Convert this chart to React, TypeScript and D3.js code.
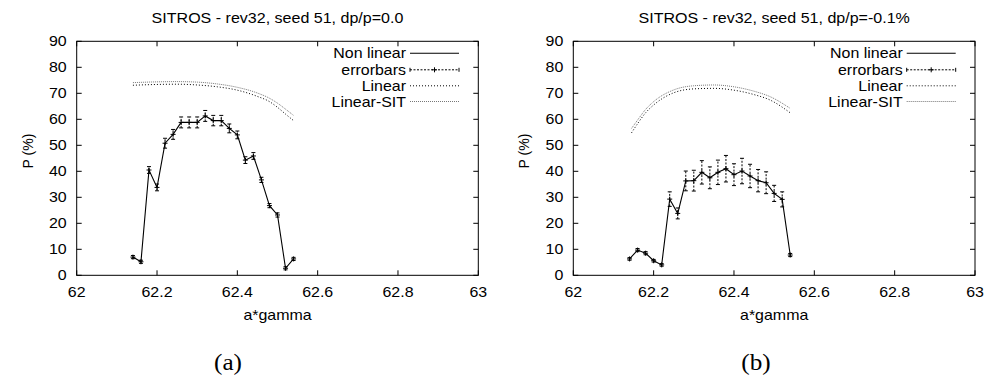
import React from "react";
import * as d3 from "d3";

// ---------- data ----------
const xNL = [62.14, 62.16, 62.18, 62.2, 62.22, 62.24, 62.26, 62.28, 62.3, 62.32, 62.34, 62.36, 62.38, 62.4, 62.42, 62.44, 62.46, 62.48, 62.5, 62.52, 62.54];

const nlA = [7.0, 5.2, 40.5, 33.8, 50.8, 54.2, 58.8, 58.8, 58.8, 61.3, 59.5, 59.5, 56.5, 54.0, 44.3, 45.9, 36.7, 26.8, 23.2, 2.7, 6.3];
const errA = [0.6, 0.6, 1.3, 1.3, 1.9, 1.9, 2.1, 2.1, 2.1, 2.1, 2.0, 2.0, 1.7, 1.5, 1.3, 1.3, 1.0, 0.8, 0.8, 0.6, 0.6];

const nlB = [6.3, 9.7, 8.5, 5.6, 4.0, 29.3, 23.8, 36.3, 36.4, 39.6, 37.5, 39.6, 41.0, 38.7, 40.1, 38.2, 36.4, 35.6, 31.5, 29.2, 7.8];
const errB = [0.5, 0.6, 0.6, 0.5, 0.5, 2.8, 2.1, 3.8, 4.0, 4.5, 4.2, 4.7, 5.1, 4.2, 4.9, 4.5, 4.3, 4.2, 3.1, 2.9, 0.6];

const xLinA = [62.14, 62.2, 62.25, 62.3, 62.35, 62.4, 62.45, 62.48, 62.5, 62.52, 62.54];
const linA = [73.1, 73.4, 73.5, 73.2, 72.5, 71.2, 68.8, 66.8, 64.6, 62.0, 59.5];
const sitA = [74.1, 74.4, 74.5, 74.3, 73.6, 72.3, 70.1, 68.1, 66.2, 63.9, 61.5];

const xLinB = [62.145, 62.16, 62.18, 62.2, 62.25, 62.3, 62.35, 62.4, 62.45, 62.49, 62.54];
const linB = [54.8, 58.3, 62.5, 65.5, 70.2, 71.7, 71.9, 71.2, 69.5, 67.4, 62.5];
const sitB = [56.5, 59.7, 63.8, 66.8, 71.3, 72.9, 73.2, 72.5, 70.8, 68.7, 64.2];

const xTicks = [62, 62.2, 62.4, 62.6, 62.8, 63];
const yTicks = [0, 10, 20, 30, 40, 50, 60, 70, 80, 90];
const legendLabels = ["Non linear", "errorbars", "Linear", "Linear-SIT"];

const titles = ["SITROS - rev32, seed 51, dp/p=0.0", "SITROS - rev32, seed 51, dp/p=-0.1%"];
const captions = ["(a)", "(b)"];
const xLabel = "a*gamma";
const yLabel = "P (%)";

// ---------- layout ----------
const W = 987;
const H = 379;
const SANS = "'Liberation Sans', Arial, sans-serif";
const SX = 1.14;

type PanelProps = {
  x0: number;
  x1: number;
  title: string;
  caption: string;
  captionX: number;
  nl: number[];
  err: number[];
  xl: number[];
  lin: number[];
  sit: number[];
};

function T({ x, y, children, anchor = "middle", size = 14, sx = SX, rotate = 0, family = SANS }: any) {
  return (
    <text
      transform={`translate(${x},${y}) rotate(${rotate}) scale(${sx},1)`}
      textAnchor={anchor}
      fontSize={size}
      fontFamily={family}
      fill="#000"
    >
      {children}
    </text>
  );
}

function Panel({ x0, x1, title, caption, captionX, nl, err, xl, lin, sit }: PanelProps) {
  const yTop = 41.3;
  const yBot = 275.3;
  const x = d3.scaleLinear().domain([62, 63]).range([x0, x1]);
  const y = d3.scaleLinear().domain([0, 90]).range([yBot, yTop]);
  const tl = 5;

  const nlLine = d3
    .line<number>()
    .x((_, i) => x(xNL[i]))
    .y((d) => y(d));
  const curve = d3
    .line<number>()
    .x((_, i) => x(xl[i]))
    .y((d) => y(d))
    .curve(d3.curveMonotoneX);

  const cx = (x0 + x1) / 2;
  const legTextX = x1 - 72.3;
  const legS0 = x1 - 68.3;
  const legS1 = x1 - 19.3;
  const legY = [53.3, 69.8, 85.8, 101.5];

  const plus = (px: number, py: number, k: string) => (
    <g key={k}>
      <line x1={px - 2.5} x2={px + 2.5} y1={py} y2={py} stroke="#000" strokeWidth={1} />
      <line x1={px} x2={px} y1={py - 2.5} y2={py + 2.5} stroke="#000" strokeWidth={1} />
    </g>
  );

  return (
    <g>
      {/* frame */}
      <rect x={x0} y={yTop} width={x1 - x0} height={yBot - yTop} fill="none" stroke="#000" strokeWidth={1} />
      {xTicks.map((t) => (
        <g key={"xt" + t}>
          <line x1={x(t)} x2={x(t)} y1={yBot} y2={yBot - tl} stroke="#000" />
          <line x1={x(t)} x2={x(t)} y1={yTop} y2={yTop + tl} stroke="#000" />
          <T x={x(t)} y={297.3}>{String(t)}</T>
        </g>
      ))}
      {yTicks.map((t) => (
        <g key={"yt" + t}>
          <line x1={x0} x2={x0 + tl} y1={y(t)} y2={y(t)} stroke="#000" />
          <line x1={x1} x2={x1 - tl} y1={y(t)} y2={y(t)} stroke="#000" />
          <T x={x0 - 10} y={y(t) + 5} anchor="end">{String(t)}</T>
        </g>
      ))}
      <T x={cx} y={22.5} size={15} sx={1.07}>{title}</T>
      <T x={cx} y={320}>{xLabel}</T>
      <T x={x0 - 44} y={151} rotate={-90} sx={1}>{yLabel}</T>
      <T x={captionX} y={370} size={24} sx={1.05} family="'Liberation Serif', 'DejaVu Serif', serif">{caption}</T>

      {/* linear curves */}
      <path d={curve(sit) || ""} fill="none" stroke="#777" strokeWidth={1} strokeDasharray="1,1" />
      <path d={curve(lin) || ""} fill="none" stroke="#000" strokeWidth={1} strokeDasharray="1,2" />

      {/* error bars */}
      {nl.map((v, i) => {
        const px = x(xNL[i]);
        const lo = y(v - err[i]);
        const hi = y(v + err[i]);
        return (
          <g key={"e" + i}>
            <line x1={px} x2={px} y1={lo} y2={hi} stroke="#000" strokeWidth={1} strokeDasharray="2,1.5" />
            <line x1={px - 2} x2={px + 2} y1={lo} y2={lo} stroke="#000" strokeWidth={1} />
            <line x1={px - 2} x2={px + 2} y1={hi} y2={hi} stroke="#000" strokeWidth={1} />
          </g>
        );
      })}
      {/* non linear */}
      <path d={nlLine(nl) || ""} fill="none" stroke="#000" strokeWidth={1.1} />
      {nl.map((v, i) => plus(x(xNL[i]), y(v), "p" + i))}

      {/* legend */}
      {legendLabels.map((l, i) => (
        <T key={"lg" + i} x={legTextX} y={legY[i] + 5} anchor="end">{l}</T>
      ))}
      <line x1={legS0} x2={legS1} y1={legY[0]} y2={legY[0]} stroke="#000" strokeWidth={1.1} />
      <line x1={legS0} x2={legS1} y1={legY[1]} y2={legY[1]} stroke="#000" strokeDasharray="2,1.5" />
      <line x1={legS0} x2={legS0} y1={legY[1] - 2} y2={legY[1] + 2} stroke="#000" />
      <line x1={legS1} x2={legS1} y1={legY[1] - 2} y2={legY[1] + 2} stroke="#000" />
      {plus((legS0 + legS1) / 2, legY[1], "lgp")}
      <line x1={legS0} x2={legS1} y1={legY[2]} y2={legY[2]} stroke="#000" strokeDasharray="1,2" />
      <line x1={legS0} x2={legS1} y1={legY[3]} y2={legY[3]} stroke="#777" strokeDasharray="1,1" />
    </g>
  );
}

export default function App() {
  return (
    <svg width={W} height={H} style={{ position: "absolute", left: 0, top: 0, background: "#fff" }}>
      <rect x={0} y={0} width={W} height={H} fill="#fff" />
      <Panel x0={76.7} x1={478.3} title={titles[0]} caption={captions[0]} captionX={228} nl={nlA} err={errA} xl={xLinA} lin={linA} sit={sitA} />
      <Panel x0={573.3} x1={975} title={titles[1]} caption={captions[1]} captionX={756} nl={nlB} err={errB} xl={xLinB} lin={linB} sit={sitB} />
    </svg>
  );
}
